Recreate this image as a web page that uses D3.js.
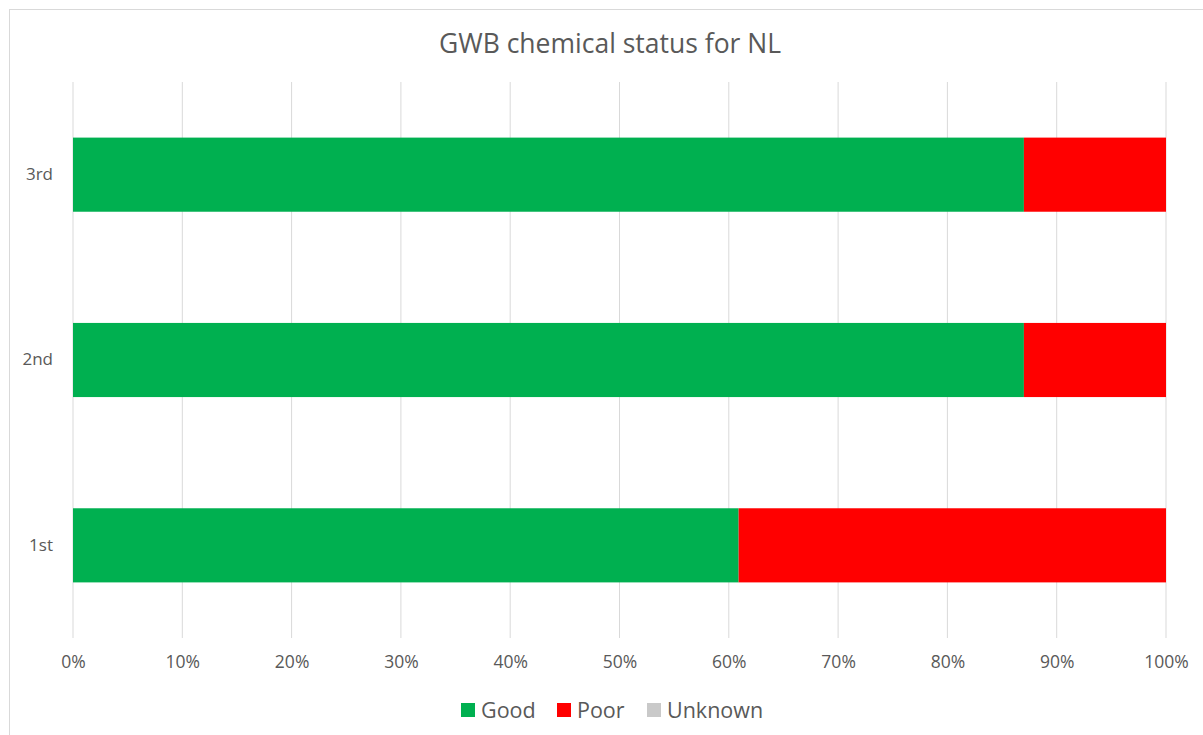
<!DOCTYPE html>
<html>
<head>
<meta charset="utf-8">
<script src="https://cdn.jsdelivr.net/npm/d3@7"></script>
<style>
  body { margin: 0; background: #fff; }
  text { font-family: 'Open Sans', sans-serif; }
</style>
</head>
<body>
<div id="chart"></div>
<script>
// data
let cycles = ['1st', '2nd', '3rd']
let good = [60.9, 87.0, 87.0]
let poor = [39.1, 13.0, 13.0]
let unknown = [0, 0, 0]
let seriesNames = ['Good', 'Poor', 'Unknown']
let seriesColors = ['#00b050', '#ff0000', '#c9c9c9']
let ticks = [0, 10, 20, 30, 40, 50, 60, 70, 80, 90, 100]

let W = 1203
let H = 735
let margin = { top: 82, left: 73, right: 37, bottom: 97 }
let width = W - margin.left - margin.right
let height = H - margin.top - margin.bottom

let svg = d3
  .select('#chart')
  .append('svg')
  .attr('width', W)
  .attr('height', H)

// chart frame
svg
  .append('rect')
  .attr('x', 9.5)
  .attr('y', 9.5)
  .attr('width', W + 20)
  .attr('height', H + 20)
  .attr('fill', 'none')
  .attr('stroke', '#d9d9d9')

svg
  .append('text')
  .text('GWB chemical status for NL')
  .attr('x', 610)
  .attr('y', 53)
  .attr('text-anchor', 'middle')
  .attr('font-size', 26.5)
  .attr('fill', '#595959')

let g = svg
  .append('g')
  .attr('transform', 'translate(' + margin.left + ',' + margin.top + ')')

let xScale = d3.scaleLinear().domain([0, 100]).range([0, width])
let yScale = d3
  .scaleBand()
  .domain(cycles.slice().reverse())
  .range([0, height])
  .paddingInner(0.6)
  .paddingOuter(0.3)

// gridlines
g.selectAll('.grid')
  .data(ticks)
  .enter()
  .append('line')
  .attr('x1', d => xScale(d))
  .attr('x2', d => xScale(d))
  .attr('y1', 0)
  .attr('y2', height)
  .attr('stroke', '#d9d9d9')
  .attr('stroke-width', 1)

let rows = cycles.map((c, i) => ({ cycle: c, Good: good[i], Poor: poor[i], Unknown: unknown[i] }))
let stacked = d3.stack().keys(seriesNames)(rows)

g.selectAll('.series')
  .data(stacked)
  .enter()
  .append('g')
  .attr('fill', (d, i) => seriesColors[i])
  .selectAll('rect')
  .data(d => d)
  .enter()
  .append('rect')
  .attr('x', d => xScale(d[0]))
  .attr('width', d => xScale(d[1]) - xScale(d[0]))
  .attr('y', d => yScale(d.data.cycle))
  .attr('height', yScale.bandwidth())

// x axis labels
let xAxis = d3
  .axisBottom(xScale)
  .tickValues(ticks)
  .tickFormat(d => d + '%')
  .tickSize(0)
  .tickPadding(18)
g.append('g')
  .attr('class', 'x-axis')
  .attr('transform', 'translate(0,' + height + ')')
  .call(xAxis)
  .call(a => a.select('.domain').remove())
  .selectAll('text')
  .attr('font-size', 17.5)
  .attr('fill', '#595959')
  .attr('font-family', 'Open Sans')

// y axis labels
let yAxis = d3.axisLeft(yScale).tickSize(0).tickPadding(20)
g.append('g')
  .attr('class', 'y-axis')
  .call(yAxis)
  .call(a => a.select('.domain').remove())
  .selectAll('text')
  .attr('font-size', 17)
  .attr('fill', '#595959')
  .attr('font-family', 'Open Sans')

// legend
let legendX = [461, 557, 647]
let legend = svg
  .selectAll('.legend')
  .data(seriesNames)
  .enter()
  .append('g')
  .attr('transform', (d, i) => 'translate(' + legendX[i] + ',710)')
legend
  .append('rect')
  .attr('x', 0)
  .attr('y', -7)
  .attr('width', 14)
  .attr('height', 14)
  .attr('fill', (d, i) => seriesColors[i])
legend
  .append('text')
  .text(d => d)
  .attr('x', 20)
  .attr('y', 8)
  .attr('font-size', 21.5)
  .attr('fill', '#595959')
</script>
</body>
</html>
